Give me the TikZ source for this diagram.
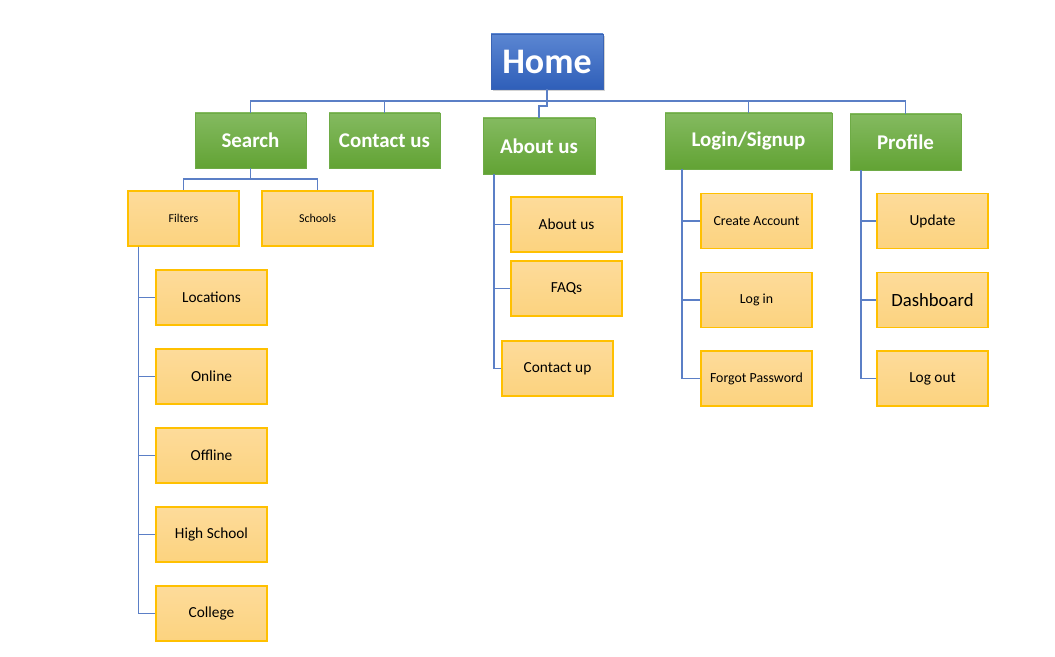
\documentclass[tikz,border=0pt]{standalone}
\usepackage{fontspec}
\setmainfont{Carlito}
\usetikzlibrary{shadows}
\definecolor{homeTop}{HTML}{5B86D2}
\definecolor{homeBot}{HTML}{2F5FB9}
\definecolor{homeLine}{HTML}{3A64B5}
\definecolor{greenTop}{HTML}{84BA60}
\definecolor{greenBot}{HTML}{62A334}
\definecolor{greenLine}{HTML}{6EAB46}
\definecolor{paleTop}{HTML}{FDDB9A}
\definecolor{paleBot}{HTML}{FCD37F}
\definecolor{paleLine}{HTML}{FFC000}
\definecolor{linkBlue}{HTML}{5B7FC6}
\tikzset{
  homebox/.style={draw=homeLine,top color=homeTop,bottom color=homeBot,text=white,
    font=\fontsize{27}{30}\selectfont\bfseries,inner sep=0pt,
    minimum width=84pt,minimum height=41.25pt,
    drop shadow={opacity=0.35,shadow xshift=1.2pt,shadow yshift=-1.2pt}},
  mainbox/.style={draw=greenLine,top color=greenTop,bottom color=greenBot,text=white,
    font=\fontsize{15.7}{18}\selectfont\bfseries,inner sep=0pt,
    minimum width=83.25pt,minimum height=41.25pt},
  subbox/.style={draw=paleLine,top color=paleTop,bottom color=paleBot,text=black,
    font=\fontsize{11.5}{14}\selectfont,inner sep=0pt,line width=0.8pt,
    minimum width=83.25pt,minimum height=41.25pt},
  smalltext/.style={font=\fontsize{9}{11}\selectfont},
  loginText/.style={font=\fontsize{10.4}{12}\selectfont},
  link/.style={draw=linkBlue,line width=1.3pt}
}
\begin{document}
\begin{tikzpicture}[x=0.75pt,y=-0.75pt]
\useasboundingbox (0,0) rectangle (1055,656);
% top level
\node[homebox] (home) at (547,61.5) {Home};
\node[mainbox] (search) at (250.5,140.5) {Search};
\node[mainbox] (contact) at (384.5,140.5) {Contact us};
\node[mainbox,minimum width=84pt,minimum height=42pt] (about) at (539,146) {About us};
\node[mainbox,minimum width=125.25pt,minimum height=42pt] (login) at (748.5,141) {Login/Signup};
\node[mainbox,minimum height=42pt] (profile) at (905.5,142) {Profile};
% search branch
\node[subbox,smalltext] (filters) at (183.5,218.5) {Filters};
\node[subbox,smalltext] (schools) at (317.5,218.5) {Schools};
\node[subbox] (loc) at (211.5,297.5) {Locations};
\node[subbox] (online) at (211.5,376.5) {Online};
\node[subbox] (offline) at (211.5,455.5) {Offline};
\node[subbox] (high) at (211.5,534.5) {High School};
\node[subbox] (college) at (211.5,613.5) {College};
% about branch
\node[subbox] (aboutsub) at (566.5,224.5) {About us};
\node[subbox] (faq) at (566.5,288.5) {FAQs};
\node[subbox] (contactup) at (557.5,368.5) {Contact up};
% login branch
\node[subbox,loginText] (create) at (756.5,221) {Create Account};
\node[subbox,loginText] (logon) at (756.5,300) {Log in};
\node[subbox,loginText] (forgot) at (756.5,378.5) {Forgot Password};
% profile branch
\node[subbox] (update) at (932.5,221) {Update};
\node[subbox,font=\fontsize{14}{16}\selectfont] (dash) at (932.5,300) {Dashboard};
\node[subbox] (logout) at (932.5,378.5) {Log out};
% connectors
\foreach \c in {search,contact,login,profile}
  \draw[link] (home.south) -- ++(0,12) -| (\c.north);
\draw[link] (home.south) -- ++(0,17) -| (about.north);
\foreach \c in {filters,schools}
  \draw[link] (search.south) -- ++(0,11) -| (\c.north);
\foreach \c in {loc,online,offline,high,college}
  \draw[link] ([xshift=8.25pt]filters.south west) |- (\c.west);
\foreach \c in {aboutsub,faq,contactup}
  \draw[link] ([xshift=8.25pt]about.south west) |- (\c.west);
\foreach \c in {create,logon,forgot}
  \draw[link] ([xshift=12.75pt]login.south west) |- (\c.west);
\foreach \c in {update,dash,logout}
  \draw[link] ([xshift=8.25pt]profile.south west) |- (\c.west);
\end{tikzpicture}
\end{document}
